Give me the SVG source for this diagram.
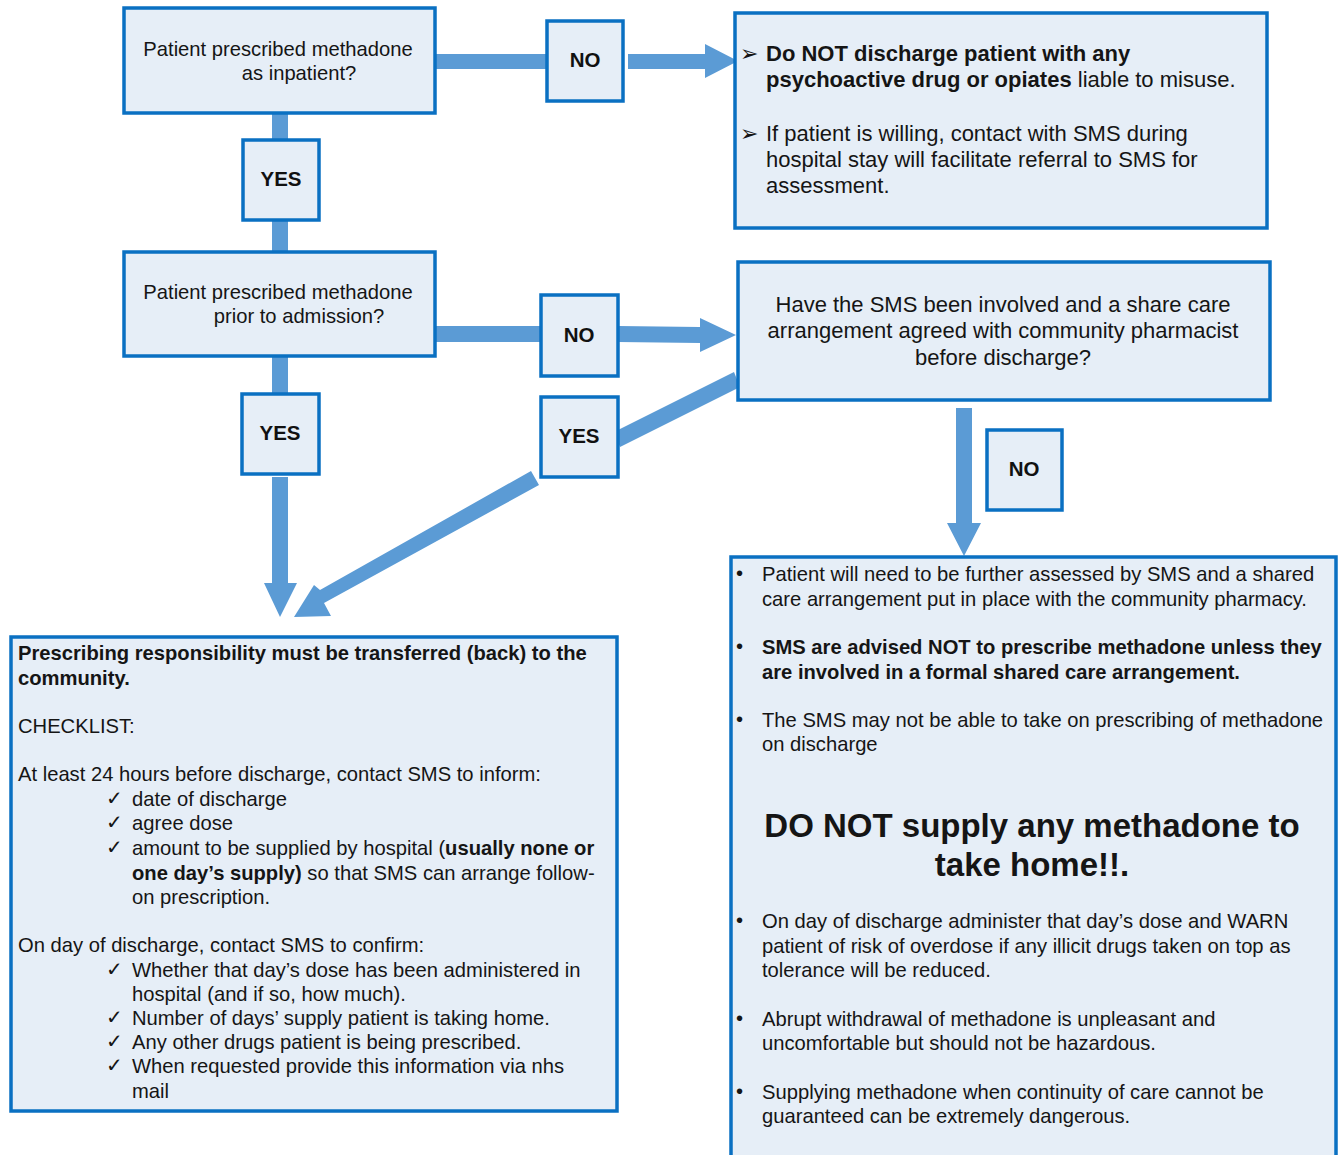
<svg xmlns="http://www.w3.org/2000/svg" width="1338" height="1155" viewBox="0 0 1338 1155">
<style>
.box{fill:#E6EEF7;stroke:#0A70C2;stroke-width:3.5}
.t{font-family:"Liberation Sans",Arial,sans-serif;font-size:20.2px;fill:#151515}
.m{font-size:22px}
.big{font-size:33px;font-weight:bold}
.b{font-weight:bold}
.lbl{font-family:"Liberation Sans",Arial,sans-serif;font-size:20.5px;font-weight:bold;fill:#111;text-anchor:middle}
.c{fill:#5B9BD5}
.sym{font-family:"DejaVu Sans",sans-serif;fill:#151515}
.ck{font-family:"DejaVu Sans",sans-serif;fill:#151515;font-size:20px;font-weight:bold}
.ar{font-family:"DejaVu Sans",sans-serif;fill:#151515;font-size:22px}
</style>
<rect width="1338" height="1155" fill="#fff"/>
<g id="connectors">
  <rect class="c" x="435" y="54" width="113" height="15"/>
  <polygon class="c" points="628,54 705,54 705,44 738,61 705,78 705,69 628,69"/>
  <rect class="c" x="272" y="113" width="16" height="27"/>
  <rect class="c" x="272" y="219" width="16" height="33"/>
  <rect class="c" x="435" y="326" width="106" height="16"/>
  <polygon class="c" points="618,326 700,327 700,318 736,335 700,352 700,343 618,342"/>
  <rect class="c" x="272" y="355" width="16" height="39"/>
  <polygon class="c" points="272,477 288,477 288,583 297,583 280,617 264,583 272,583"/>
  <polygon class="c" points="614,432 734,372 740,387 620,447"/>
  <polygon class="c" points="531,471 539,485 324,603 331,616 294,617 314,585 320,590"/>
  <polygon class="c" points="956,408 972,408 972,523 981,523 964,556 947,523 956,523"/>
</g>
<g id="n1">
  <rect class="box" x="124" y="8" width="311" height="105"/>
  <text class="t" x="278" y="56" text-anchor="middle">Patient prescribed methadone</text>
  <text class="t" x="299" y="80" text-anchor="middle">as inpatient?</text>
</g>
<g id="no1">
  <rect class="box" x="547" y="21" width="76" height="80"/>
  <text class="lbl" x="585" y="67">NO</text>
</g>
<g id="n2">
  <rect class="box" x="735" y="13" width="532" height="215"/>
  <text class="ar" x="740" y="61">➢</text>
  <text class="t m b" x="766" y="61">Do NOT discharge patient with any</text>
  <text class="t m" x="766" y="87"><tspan class="b">psychoactive drug or opiates</tspan> liable to misuse.</text>
  <text class="ar" x="740" y="141">➢</text>
  <text class="t m" x="766" y="141">If patient is willing, contact with SMS during</text>
  <text class="t m" x="766" y="167">hospital stay will facilitate referral to SMS for</text>
  <text class="t m" x="766" y="193">assessment.</text>
</g>
<g id="yes1">
  <rect class="box" x="243" y="140" width="76" height="80"/>
  <text class="lbl" x="281" y="186">YES</text>
</g>
<g id="n3">
  <rect class="box" x="124" y="252" width="311" height="104"/>
  <text class="t" x="278" y="299" text-anchor="middle">Patient prescribed methadone</text>
  <text class="t" x="299" y="323" text-anchor="middle">prior to admission?</text>
</g>
<g id="no2">
  <rect class="box" x="541" y="295" width="77" height="81"/>
  <text class="lbl" x="579" y="342">NO</text>
</g>
<g id="n4">
  <rect class="box" x="738" y="262" width="532" height="138"/>
  <text class="t m" x="1003" y="312" text-anchor="middle">Have the SMS been involved and a share care</text>
  <text class="t m" x="1003" y="338" text-anchor="middle">arrangement agreed with community pharmacist</text>
  <text class="t m" x="1003" y="365" text-anchor="middle">before discharge?</text>
</g>
<g id="yes2">
  <rect class="box" x="242" y="394" width="77" height="80"/>
  <text class="lbl" x="280" y="440">YES</text>
</g>
<g id="yes3">
  <rect class="box" x="541" y="397" width="77" height="80"/>
  <text class="lbl" x="579" y="443">YES</text>
</g>
<g id="no3">
  <rect class="box" x="987" y="430" width="75" height="80"/>
  <text class="lbl" x="1024" y="476">NO</text>
</g>
<g id="n5">
  <rect class="box" x="11" y="637" width="606" height="474"/>
  <text class="t b" x="18" y="660">Prescribing responsibility must be transferred (back) to the</text>
  <text class="t b" x="18" y="685">community.</text>
  <text class="t" x="18" y="733">CHECKLIST:</text>
  <text class="t" x="18" y="781">At least 24 hours before discharge, contact SMS to inform:</text>
  <g class="ck">
    <text x="106" y="805">✓</text>
    <text x="106" y="829">✓</text>
    <text x="106" y="854">✓</text>
    <text x="106" y="976">✓</text>
    <text x="106" y="1024">✓</text>
    <text x="106" y="1048">✓</text>
    <text x="106" y="1072">✓</text>
  </g>
  <text class="t" x="132" y="806">date of discharge</text>
  <text class="t" x="132" y="830">agree dose</text>
  <text class="t" x="132" y="855">amount to be supplied by hospital (<tspan class="b">usually none or</tspan></text>
  <text class="t" x="132" y="880"><tspan class="b">one day’s supply)</tspan> so that SMS can arrange follow-</text>
  <text class="t" x="132" y="904">on prescription.</text>
  <text class="t" x="18" y="952">On day of discharge, contact SMS to confirm:</text>
  <text class="t" x="132" y="977">Whether that day’s dose has been administered in</text>
  <text class="t" x="132" y="1001">hospital (and if so, how much).</text>
  <text class="t" x="132" y="1025">Number of days’ supply patient is taking home.</text>
  <text class="t" x="132" y="1049">Any other drugs patient is being prescribed.</text>
  <text class="t" x="132" y="1073">When requested provide this information via nhs</text>
  <text class="t" x="132" y="1098">mail</text>
</g>
<g id="n6">
  <rect class="box" x="731" y="557" width="605" height="610"/>
  <g class="t">
    <text x="736" y="580">•</text>
    <text x="736" y="653">•</text>
    <text x="736" y="726">•</text>
    <text x="736" y="927">•</text>
    <text x="736" y="1025">•</text>
    <text x="736" y="1098">•</text>
  </g>
  <text class="t" x="762" y="581">Patient will need to be further assessed by SMS and a shared</text>
  <text class="t" x="762" y="606">care arrangement put in place with the community pharmacy.</text>
  <text class="t b" x="762" y="654">SMS are advised NOT to prescribe methadone unless they</text>
  <text class="t b" x="762" y="679">are involved in a formal shared care arrangement.</text>
  <text class="t" x="762" y="727">The SMS may not be able to take on prescribing of methadone</text>
  <text class="t" x="762" y="751">on discharge</text>
  <text class="t big" x="1032" y="837" text-anchor="middle">DO NOT supply any methadone to</text>
  <text class="t big" x="1032" y="876" text-anchor="middle">take home!!.</text>
  <text class="t" x="762" y="928">On day of discharge administer that day’s dose and WARN</text>
  <text class="t" x="762" y="953">patient of risk of overdose if any illicit drugs taken on top as</text>
  <text class="t" x="762" y="977">tolerance will be reduced.</text>
  <text class="t" x="762" y="1026">Abrupt withdrawal of methadone is unpleasant and</text>
  <text class="t" x="762" y="1050">uncomfortable but should not be hazardous.</text>
  <text class="t" x="762" y="1099">Supplying methadone when continuity of care cannot be</text>
  <text class="t" x="762" y="1123">guaranteed can be extremely dangerous.</text>
</g>
</svg>
